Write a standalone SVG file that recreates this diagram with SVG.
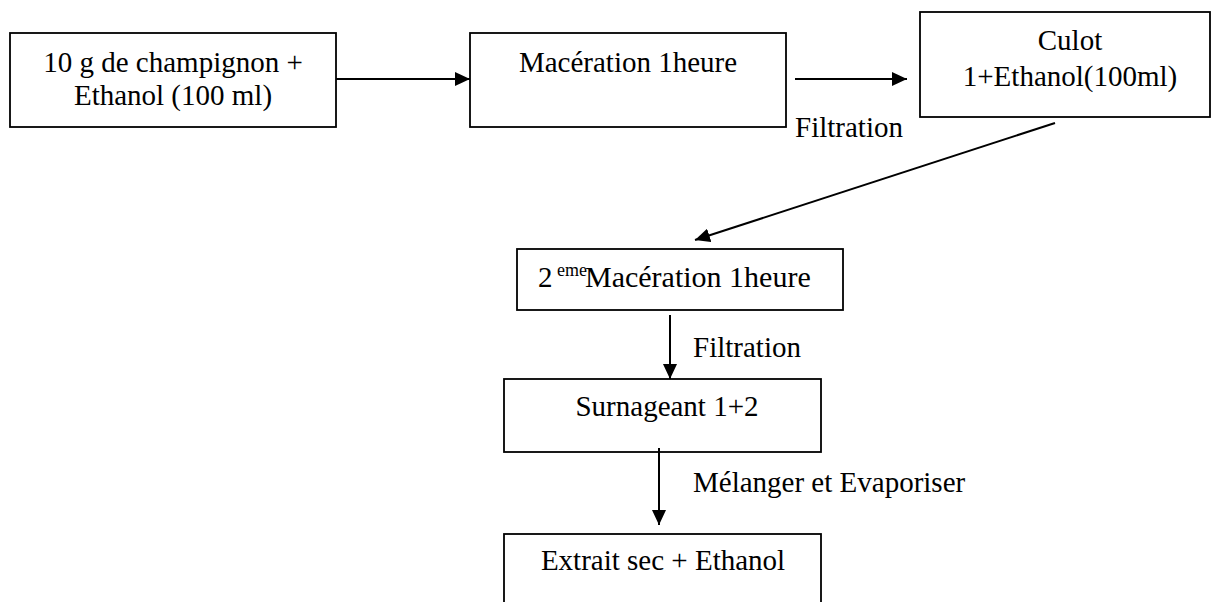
<svg xmlns="http://www.w3.org/2000/svg" width="1212" height="602" viewBox="0 0 1212 602">
<style>
.box{fill:#fff;stroke:#000;stroke-width:1.8}
.t{font-family:"Liberation Serif","Times New Roman",serif;font-size:29px;fill:#000}
.c{text-anchor:middle}
.con{stroke:#000;stroke-width:2;fill:none}
</style>
<defs>
<marker id="ah" markerUnits="userSpaceOnUse" markerWidth="16" markerHeight="14" refX="15" refY="7" orient="auto">
<path d="M0,0 L15,7 L0,14 Z" fill="#000"/>
</marker>
</defs>
<rect width="1212" height="602" fill="#fff"/>
<g id="n1">
<rect class="box" x="10" y="33" width="326" height="94"/>
<text class="t c" x="173" y="72">10 g de champignon +</text>
<text class="t c" x="173" y="105">Ethanol (100 ml)</text>
</g>
<g id="n2">
<rect class="box" x="470" y="33" width="316" height="94"/>
<text class="t c" x="628" y="72">Macération 1heure</text>
</g>
<g id="n3">
<rect class="box" x="920" y="12" width="290" height="105"/>
<text class="t c" x="1070" y="50">Culot</text>
<text class="t c" x="1070" y="86">1+Ethanol(100ml)</text>
</g>
<g id="n4">
<rect class="box" x="517" y="249" width="326" height="61"/>
<text class="t" x="538" y="287">2</text>
<text class="t" x="557" y="276" style="font-size:18px">eme</text>
<text class="t" x="585" y="287" style="font-size:30px">Macération 1heure</text>
</g>
<g id="n5">
<rect class="box" x="504" y="379" width="317" height="73"/>
<text class="t c" x="667" y="416">Surnageant 1+2</text>
</g>
<g id="n6">
<rect class="box" x="504" y="534" width="317" height="80"/>
<text class="t c" x="663" y="570">Extrait sec + Ethanol</text>
</g>
<g id="connectors">
<line class="con" x1="336" y1="79" x2="470" y2="79" marker-end="url(#ah)"/>
<line class="con" x1="795" y1="79" x2="907" y2="79" marker-end="url(#ah)"/>
<line class="con" x1="1055" y1="123" x2="695" y2="240" marker-end="url(#ah)"/>
<line class="con" x1="670" y1="315" x2="670" y2="379" marker-end="url(#ah)"/>
<line class="con" x1="659" y1="448" x2="659" y2="525" marker-end="url(#ah)"/>
<text class="t" x="795" y="137">Filtration</text>
<text class="t" x="693" y="357">Filtration</text>
<text class="t" x="693" y="492">Mélanger et Evaporiser</text>
</g>
</svg>
